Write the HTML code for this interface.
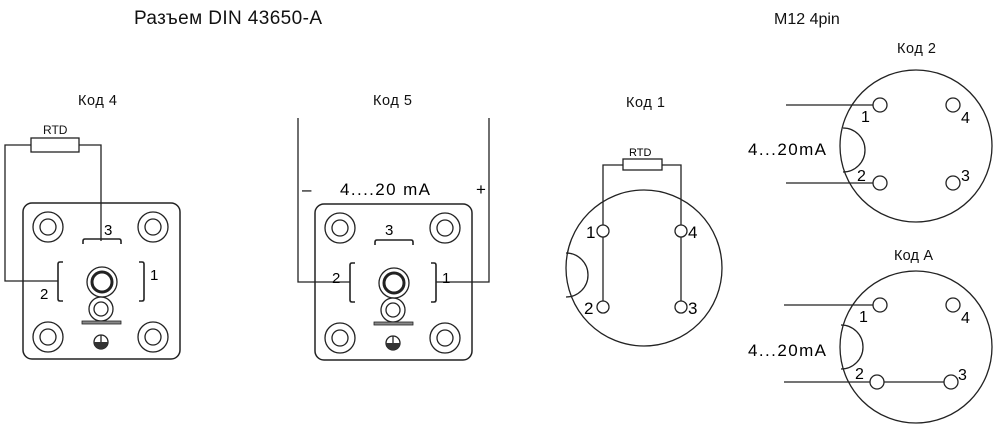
<!DOCTYPE html>
<html><head><meta charset="utf-8"><style>
html,body{margin:0;padding:0;background:#fff;}
svg{display:block;font-family:"Liberation Sans",sans-serif;}
</style></head><body>
<svg width="1000" height="429" viewBox="0 0 1000 429" xmlns="http://www.w3.org/2000/svg">
<defs>
<g id="din">
  <rect x="23" y="203" width="157" height="156" rx="9" fill="none" stroke="#222" stroke-width="1.5"/>
  <g fill="none" stroke="#222" stroke-width="1.3">
    <circle cx="48" cy="227" r="15"/><circle cx="48" cy="227" r="8"/>
    <circle cx="153" cy="227" r="15"/><circle cx="153" cy="227" r="8"/>
    <circle cx="48" cy="337" r="15"/><circle cx="48" cy="337" r="8"/>
    <circle cx="153" cy="337" r="15"/><circle cx="153" cy="337" r="8"/>
    <path d="M83 244 v-3 q0-2 2-2 h34 q2 0 2 2 v3" stroke-width="1.6"/>
    <path d="M63 262 h-3 q-2 0-2 2 v35 q0 2 2 2 h3" stroke-width="1.6"/>
    <path d="M139 262 h3 q2 0 2 2 v35 q0 2-2 2 h-3" stroke-width="1.6"/>
    <circle cx="102" cy="282" r="15"/><circle cx="102" cy="282" r="10" stroke-width="3"/>
    <circle cx="101" cy="309" r="12"/><circle cx="101" cy="309" r="7" stroke-width="1.3"/>
    <circle cx="101" cy="342" r="7"/>
    <line x1="101" y1="335" x2="101" y2="342"/>
  </g>
  <rect x="82" y="321" width="39" height="3" fill="#888" stroke="#222" stroke-width="0.8"/>
  <path d="M94 342 h14 a7 7 0 0 1 -14 0z" fill="#333"/>
</g>
</defs>

<text x="134" y="24" font-size="19" textLength="188" fill="#111">Разъем DIN 43650-A</text>
<text x="774" y="24" font-size="16" fill="#111">M12 4pin</text>

<!-- Код 4 -->
<text x="78" y="105" font-size="14.5" textLength="39" fill="#111">Код 4</text>
<use href="#din"/>
<rect x="31" y="138" width="48" height="14" fill="#fff" stroke="#222" stroke-width="1.3"/>
<text x="43" y="134" font-size="12" fill="#111">RTD</text>
<path d="M31 145 H5 V281 H58" fill="none" stroke="#222" stroke-width="1.3"/>
<path d="M79 145 H101 V241" fill="none" stroke="#222" stroke-width="1.3"/>
<text x="104" y="235" font-size="15">3</text>
<text x="150" y="280" font-size="15">1</text>
<text x="40" y="299" font-size="15">2</text>

<!-- Код 5 -->
<text x="373" y="105" font-size="14.5" textLength="39" fill="#111">Код 5</text>
<g transform="translate(292,1)"><use href="#din"/></g>
<path d="M298 118 V282 H350" fill="none" stroke="#222" stroke-width="1.3"/>
<path d="M489 118 V282 H436" fill="none" stroke="#222" stroke-width="1.3"/>
<text x="302" y="195" font-size="17">–</text>
<text x="340" y="195" font-size="17" textLength="90">4....20  mA</text>
<text x="476" y="195" font-size="17">+</text>
<text x="385" y="235" font-size="15">3</text>
<text x="332" y="283" font-size="15">2</text>
<text x="442" y="283" font-size="15">1</text>

<!-- Код 1 -->
<text x="626" y="107" font-size="14.5" textLength="39" fill="#111">Код 1</text>
<circle cx="644" cy="268" r="78" fill="none" stroke="#222" stroke-width="1.3"/>
<path d="M566 253 a22 22 0 0 1 0 44" fill="none" stroke="#222" stroke-width="1.3"/>
<path d="M603 231 V165 H623 M662 165 H681 V231" fill="none" stroke="#222" stroke-width="1.3"/>
<rect x="623" y="159" width="39" height="11" fill="#fff" stroke="#222" stroke-width="1.3"/>
<text x="629" y="156" font-size="11">RTD</text>
<line x1="603" y1="231" x2="603" y2="306" stroke="#222" stroke-width="1.3"/>
<line x1="681" y1="231" x2="681" y2="306" stroke="#222" stroke-width="1.3"/>
<g fill="#fff" stroke="#222" stroke-width="1.3">
<circle cx="603" cy="231" r="6"/><circle cx="681" cy="231" r="6"/>
<circle cx="603" cy="307" r="6"/><circle cx="681" cy="307" r="6"/>
</g>
<text x="586" y="238" font-size="17">1</text>
<text x="688" y="238" font-size="17">4</text>
<text x="584" y="314" font-size="17">2</text>
<text x="688" y="314" font-size="17">3</text>

<!-- Код 2 -->
<text x="897" y="53" font-size="14.5" textLength="39" fill="#111">Код 2</text>
<circle cx="916" cy="146" r="76" fill="none" stroke="#222" stroke-width="1.3"/>
<path d="M843 128 a22 22 0 0 1 0 44" fill="none" stroke="#222" stroke-width="1.3"/>
<line x1="786" y1="105" x2="873" y2="105" stroke="#222" stroke-width="1.3"/>
<line x1="786" y1="183" x2="873" y2="183" stroke="#222" stroke-width="1.3"/>
<g fill="none" stroke="#222" stroke-width="1.3">
<circle cx="880" cy="105" r="7"/><circle cx="953" cy="105" r="7"/>
<circle cx="880" cy="183" r="7"/><circle cx="953" cy="183" r="7"/>
</g>
<text x="861" y="122" font-size="16">1</text>
<text x="961" y="123" font-size="16">4</text>
<text x="857" y="181" font-size="16">2</text>
<text x="961" y="181" font-size="16">3</text>
<text x="748" y="155" font-size="17" textLength="78">4...20mA</text>

<!-- Код A -->
<text x="894" y="260" font-size="14.5" textLength="39" fill="#111">Код A</text>
<circle cx="916" cy="347" r="76" fill="none" stroke="#222" stroke-width="1.3"/>
<path d="M841 325 a22 22 0 0 1 0 44" fill="none" stroke="#222" stroke-width="1.3"/>
<line x1="784" y1="305" x2="873" y2="305" stroke="#222" stroke-width="1.3"/>
<line x1="784" y1="382" x2="945" y2="382" stroke="#222" stroke-width="1.3"/>
<g fill="#fff" stroke="#222" stroke-width="1.3">
<circle cx="880" cy="305" r="7"/><circle cx="953" cy="305" r="7"/>
<circle cx="877" cy="382" r="7"/><circle cx="951" cy="382" r="7"/>
</g>
<text x="859" y="322" font-size="16">1</text>
<text x="961" y="323" font-size="16">4</text>
<text x="855" y="379" font-size="16">2</text>
<text x="958" y="380" font-size="16">3</text>
<text x="748" y="356" font-size="17" textLength="78">4...20mA</text>
</svg>
</body></html>
